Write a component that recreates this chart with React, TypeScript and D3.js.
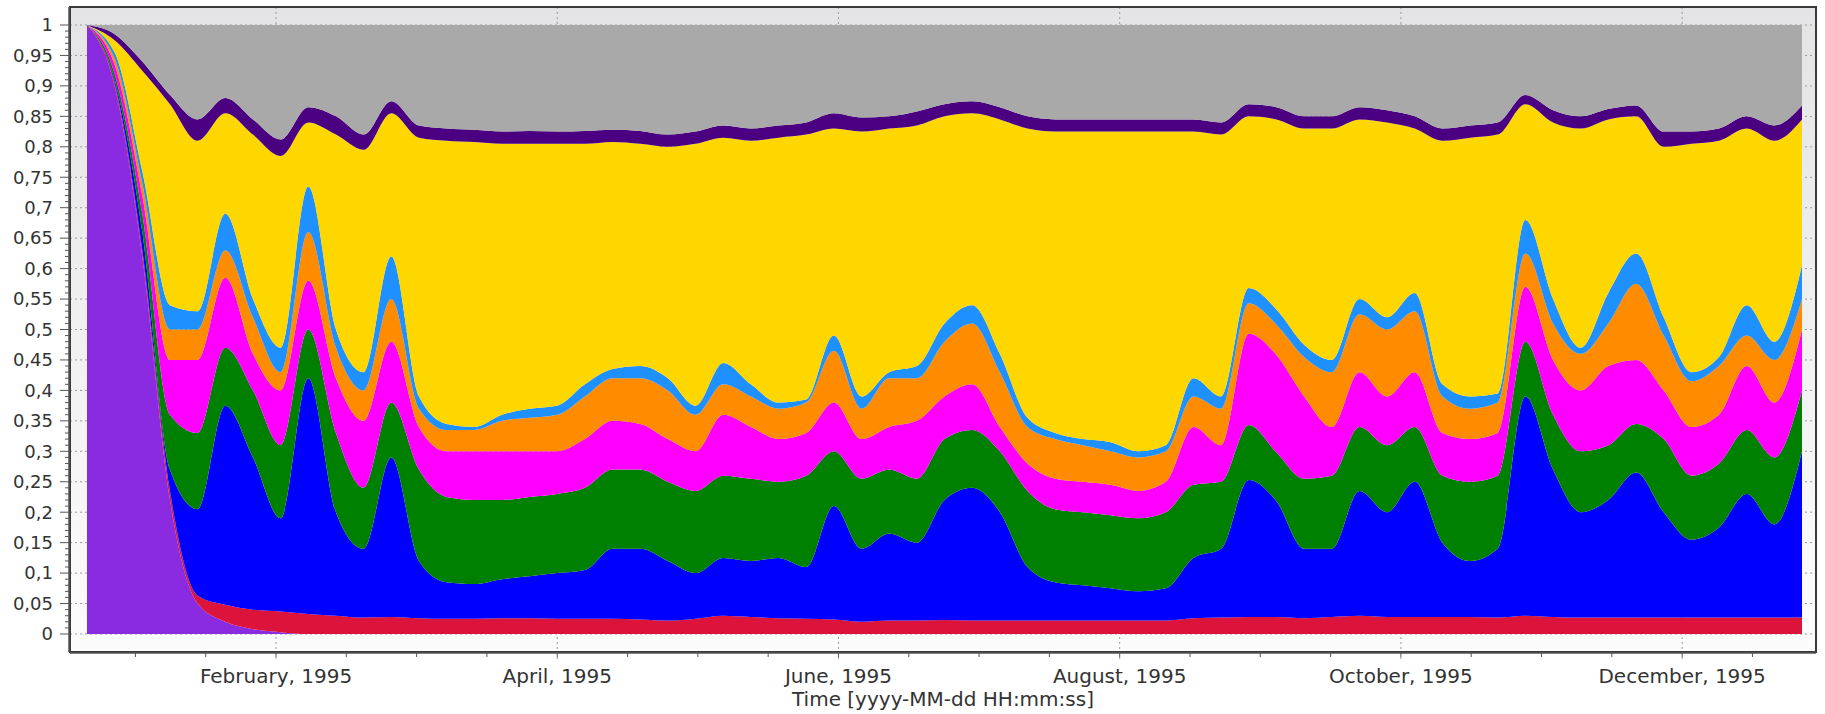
import * as d3 from "d3";

// sampling grid: every 6 days starting 1995-01-01
const START = Date.UTC(1995, 0, 1);
const DAY = 86400000;
const sampleDays = d3.range(0, 373, 6);

// shares per layer (bottom to top)
const purple = [1, 0.9, 0.62, 0.22, 0.05, 0.02, 0.008, 0.003, 0, 0, 0, 0, 0, 0, 0, 0, 0, 0, 0, 0, 0, 0, 0, 0, 0, 0, 0, 0, 0, 0, 0, 0, 0, 0, 0, 0, 0, 0, 0, 0, 0, 0, 0, 0, 0, 0, 0, 0, 0, 0, 0, 0, 0, 0, 0, 0, 0, 0, 0, 0, 0, 0, 0];
const crimson = [0, 0.005, 0.01, 0.015, 0.013, 0.028, 0.032, 0.034, 0.033, 0.03, 0.027, 0.028, 0.026, 0.025, 0.025, 0.026, 0.026, 0.025, 0.025, 0.025, 0.024, 0.022, 0.025, 0.03, 0.028, 0.026, 0.025, 0.024, 0.02, 0.022, 0.022, 0.023, 0.022, 0.022, 0.022, 0.022, 0.022, 0.022, 0.022, 0.022, 0.026, 0.027, 0.028, 0.028, 0.026, 0.028, 0.03, 0.028, 0.028, 0.028, 0.028, 0.027, 0.03, 0.028, 0.027, 0.027, 0.027, 0.027, 0.027, 0.027, 0.027, 0.027, 0.027];
const blue = [0, 0.005, 0.03, 0.035, 0.142, 0.327, 0.25, 0.153, 0.387, 0.17, 0.113, 0.262, 0.094, 0.06, 0.057, 0.064, 0.069, 0.075, 0.08, 0.115, 0.116, 0.098, 0.075, 0.095, 0.092, 0.099, 0.085, 0.186, 0.12, 0.143, 0.128, 0.197, 0.218, 0.178, 0.088, 0.063, 0.058, 0.053, 0.048, 0.053, 0.099, 0.113, 0.225, 0.19, 0.114, 0.112, 0.205, 0.172, 0.222, 0.122, 0.092, 0.113, 0.36, 0.242, 0.173, 0.193, 0.238, 0.173, 0.128, 0.148, 0.203, 0.153, 0.273];
const green = [0, 0.01, 0.03, 0.09, 0.125, 0.095, 0.11, 0.12, 0.08, 0.13, 0.1, 0.09, 0.15, 0.14, 0.138, 0.13, 0.13, 0.13, 0.135, 0.13, 0.13, 0.13, 0.135, 0.135, 0.135, 0.125, 0.15, 0.09, 0.115, 0.105, 0.105, 0.1, 0.095, 0.1, 0.125, 0.12, 0.12, 0.12, 0.12, 0.125, 0.12, 0.11, 0.09, 0.08, 0.115, 0.12, 0.105, 0.11, 0.09, 0.11, 0.13, 0.12, 0.09, 0.09, 0.1, 0.09, 0.08, 0.12, 0.105, 0.105, 0.105, 0.11, 0.1];
const magenta = [0, 0.015, 0.03, 0.09, 0.12, 0.115, 0.06, 0.09, 0.08, 0.09, 0.11, 0.1, 0.07, 0.075, 0.08, 0.08, 0.075, 0.07, 0.08, 0.08, 0.075, 0.07, 0.065, 0.1, 0.085, 0.07, 0.07, 0.08, 0.065, 0.07, 0.095, 0.07, 0.075, 0.04, 0.045, 0.05, 0.05, 0.05, 0.045, 0.05, 0.095, 0.06, 0.15, 0.16, 0.135, 0.08, 0.09, 0.08, 0.09, 0.07, 0.07, 0.07, 0.09, 0.09, 0.1, 0.13, 0.105, 0.08, 0.08, 0.08, 0.105, 0.09, 0.1];
const orange = [0, 0.01, 0.02, 0.05, 0.05, 0.045, 0.06, 0.03, 0.08, 0.05, 0.05, 0.07, 0.03, 0.035, 0.035, 0.05, 0.055, 0.06, 0.07, 0.07, 0.075, 0.08, 0.06, 0.05, 0.05, 0.05, 0.05, 0.085, 0.05, 0.08, 0.07, 0.09, 0.1, 0.09, 0.06, 0.065, 0.06, 0.055, 0.055, 0.05, 0.05, 0.06, 0.05, 0.05, 0.065, 0.09, 0.095, 0.11, 0.1, 0.06, 0.05, 0.05, 0.055, 0.06, 0.06, 0.07, 0.125, 0.09, 0.075, 0.08, 0.05, 0.07, 0.05];
const lightBlue = [0, 0.01, 0.02, 0.04, 0.03, 0.06, 0.03, 0.04, 0.075, 0.03, 0.03, 0.07, 0.02, 0.01, 0.005, 0.01, 0.015, 0.015, 0.02, 0.015, 0.02, 0.02, 0.015, 0.035, 0.02, 0.01, 0.005, 0.025, 0.02, 0.01, 0.02, 0.03, 0.03, 0.03, 0.015, 0.01, 0.01, 0.015, 0.01, 0.01, 0.03, 0.02, 0.025, 0.025, 0.02, 0.02, 0.025, 0.02, 0.03, 0.02, 0.02, 0.015, 0.055, 0.04, 0.01, 0.05, 0.05, 0.03, 0.015, 0.015, 0.05, 0.03, 0.055];
const yellow = [0, 0.02, 0.165, 0.33, 0.28, 0.165, 0.27, 0.315, 0.105, 0.32, 0.365, 0.235, 0.425, 0.465, 0.468, 0.445, 0.435, 0.43, 0.395, 0.373, 0.365, 0.38, 0.43, 0.37, 0.4, 0.435, 0.435, 0.34, 0.435, 0.4, 0.395, 0.34, 0.315, 0.385, 0.475, 0.495, 0.505, 0.51, 0.525, 0.515, 0.405, 0.43, 0.282, 0.312, 0.355, 0.38, 0.295, 0.32, 0.27, 0.4, 0.425, 0.425, 0.19, 0.29, 0.36, 0.285, 0.225, 0.28, 0.375, 0.355, 0.29, 0.33, 0.24];
const indigo = [0, 0.01, 0.015, 0.015, 0.035, 0.025, 0.025, 0.027, 0.025, 0.03, 0.025, 0.02, 0.02, 0.02, 0.02, 0.02, 0.021, 0.02, 0.021, 0.02, 0.021, 0.02, 0.02, 0.02, 0.02, 0.02, 0.02, 0.025, 0.023, 0.02, 0.023, 0.02, 0.02, 0.02, 0.02, 0.02, 0.02, 0.02, 0.02, 0.02, 0.02, 0.02, 0.02, 0.02, 0.02, 0.02, 0.02, 0.02, 0.02, 0.02, 0.02, 0.02, 0.015, 0.02, 0.02, 0.017, 0.018, 0.025, 0.02, 0.02, 0.02, 0.025, 0.023];
const gray = [0, 0.015, 0.06, 0.115, 0.155, 0.12, 0.155, 0.188, 0.135, 0.15, 0.18, 0.125, 0.165, 0.17, 0.172, 0.175, 0.174, 0.175, 0.174, 0.172, 0.174, 0.18, 0.175, 0.165, 0.17, 0.165, 0.16, 0.145, 0.152, 0.15, 0.142, 0.13, 0.125, 0.135, 0.15, 0.155, 0.155, 0.155, 0.155, 0.155, 0.155, 0.16, 0.13, 0.135, 0.15, 0.15, 0.135, 0.14, 0.15, 0.17, 0.165, 0.16, 0.115, 0.14, 0.15, 0.138, 0.132, 0.175, 0.175, 0.17, 0.15, 0.165, 0.132];

const series = [
  { key: "purple", values: purple, color: "#8A2BE2" },
  { key: "crimson", values: crimson, color: "#DC143C" },
  { key: "blue", values: blue, color: "#0000FF" },
  { key: "green", values: green, color: "#008000" },
  { key: "magenta", values: magenta, color: "#FF00FF" },
  { key: "orange", values: orange, color: "#FF8C00" },
  { key: "lightBlue", values: lightBlue, color: "#1E90FF" },
  { key: "yellow", values: yellow, color: "#FFD700" },
  { key: "indigo", values: indigo, color: "#4B0082" },
  { key: "gray", values: gray, color: "#A9A9A9" },
];

const majorTickDates = ["1995-02-11", "1995-04-13", "1995-06-13", "1995-08-13", "1995-10-13", "1995-12-13"];
const yTicks = d3.range(0, 21).map((k) => k * 0.05);

const FONT = "DejaVu Sans";

export default function App() {
  const W = 1825, H = 714;
  const fl = 70, fr = 1816, ft = 7, fb = 652;

  const x = d3.scaleUtc()
    .domain([new Date(START), new Date(START + 372 * DAY)])
    .range([87, 1802]);
  const y = d3.scaleLinear().domain([0, 1]).range([634, 25]);

  const rows = sampleDays.map((d, i) => {
    const row: any = { date: new Date(START + d * DAY) };
    series.forEach((s) => (row[s.key] = s.values[i]));
    return row;
  });
  const stacked = d3.stack().keys(series.map((s) => s.key))(rows);
  const area = d3.area<any>()
    .x((d) => x(d.data.date))
    .y0((d) => y(d[0]))
    .y1((d) => y(d[1]))
    .curve(d3.curveMonotoneX);

  const majors = majorTickDates.map((s) => new Date(s + "T00:00:00Z"));
  const step = 15.25 * DAY;
  const minors = d3.range(-2, 22)
    .map((k) => new Date(majors[0].getTime() + k * step))
    .filter((d) => x(d) >= fl && x(d) <= fr);
  const fmt = d3.utcFormat("%B, %Y");
  const yFmt = (v: number) => d3.format(".2~f")(v).replace(".", ",");
  const yMinor = d3.range(0, 101).map((k) => k / 100);

  return (
    <svg width={W} height={H} style={{ position: "absolute", left: 0, top: 0, background: "#fff" }} fontFamily={FONT}>
      <defs>
        <linearGradient id="bg" x1="0" y1="0" x2="0" y2="1">
          <stop offset="0%" stopColor="#e4e4e6" />
          <stop offset="100%" stopColor="#fcfcfc" />
        </linearGradient>
      </defs>
      <rect x={fl} y={ft} width={fr - fl} height={fb - ft} fill="url(#bg)" />

      {/* grid */}
      {yTicks.map((v) => (
        <line key={"gy" + v} x1={fl} x2={fr} y1={y(v)} y2={y(v)} stroke="#9a9a9a" strokeDasharray="2,3" />
      ))}
      {majors.map((d) => (
        <line key={"gx" + d.getTime()} x1={x(d)} x2={x(d)} y1={ft} y2={fb + 10} stroke="#9a9a9a" strokeDasharray="2,3" />
      ))}

      {/* stacked areas */}
      {stacked.map((layer, i) => (
        <path key={layer.key} d={area(layer as any) || undefined} fill={series[i].color} />
      ))}

      {/* frame */}
      <rect x={fl} y={ft} width={fr - fl} height={fb - ft} fill="none" stroke="#3a3a3a" strokeWidth={2} />
      <line x1={fl} x2={fr} y1={fb + 1} y2={fb + 1} stroke="#555" strokeWidth={1.5} />
      <line x1={fl - 1} x2={fl - 1} y1={ft} y2={fb} stroke="#555" strokeWidth={1.5} />

      {/* y axis */}
      {yMinor.map((v) => (
        <line key={"ym" + v} x1={Math.round(v * 100) % 5 === 0 ? 60 : 65} x2={fl} y1={y(v)} y2={y(v)} stroke="#555" />
      ))}
      {yTicks.map((v) => (
        <text key={"yl" + v} x={53} y={y(v)} dy="0.35em" textAnchor="end" fontSize={18} fill="#333">
          {yFmt(v)}
        </text>
      ))}

      {/* x axis */}
      {minors.map((d) => (
        <line key={"xm" + d.getTime()} x1={x(d)} x2={x(d)} y1={fb} y2={fb + 5} stroke="#555" />
      ))}
      {majors.map((d) => (
        <text key={"xl" + d.getTime()} x={x(d)} y={683} textAnchor="middle" fontSize={20} fill="#333">
          {fmt(d)}
        </text>
      ))}
      <text x={(fl + fr) / 2} y={706} textAnchor="middle" fontSize={20} fill="#333">
        Time [yyyy-MM-dd HH:mm:ss]
      </text>
    </svg>
  );
}
